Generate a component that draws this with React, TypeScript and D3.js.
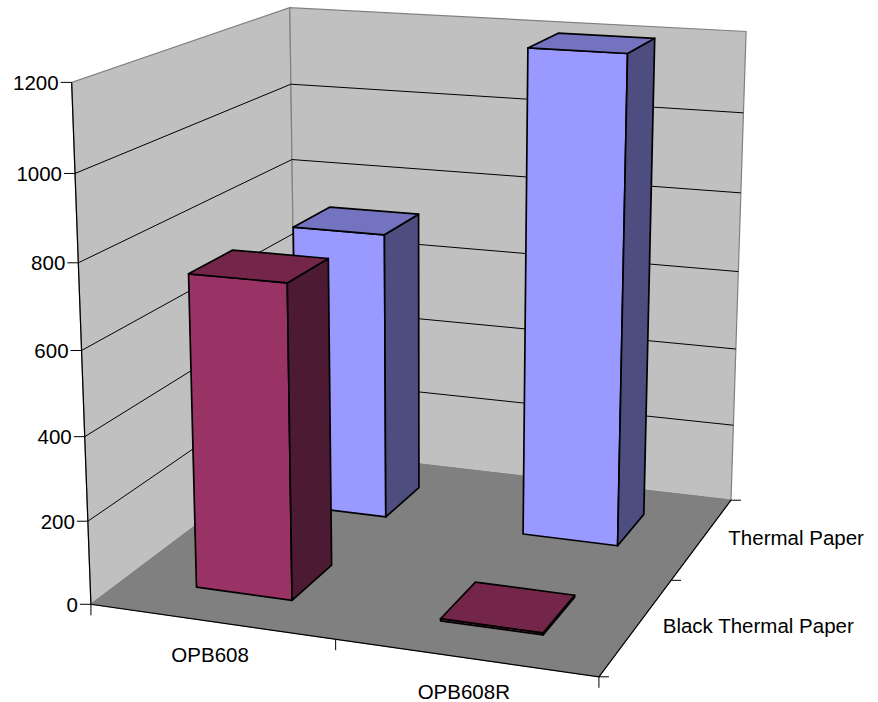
import React from "react";
import * as d3 from "d3";

const categories = ["OPB608", "OPB608R"];
const seriesNames = ["Black Thermal Paper", "Thermal Paper"];
const blackThermalPaper = [748, 5];
const thermalPaper = [724, 1200];
const valueTicks = [0, 200, 400, 600, 800, 1000, 1200];

const FONT = "'Liberation Sans', Arial, sans-serif";
const seriesColors = [
  { front: "#993366", side: "#4D1A33", top: "#732649" },
  { front: "#9999FF", side: "#4D4D80", top: "#7373BF" },
];

type P3 = [number, number, number];
type P2 = [number, number];

// Calibration of the 3D box: unit-cube corners to their place on the page.
const calibration: [P3, P2][] = [
  [[0, 0, 0], [91, 604]],
  [[1, 0, 0], [599, 677]],
  [[1, 0, 1], [731, 500]],
  [[0, 0, 1], [296, 450]],
  [[0, 1, 0], [71.5, 82.5]],
  [[0, 1, 1], [290, 7.5]],
  [[1, 1, 1], [746, 31.5]],
];

function solve(A: number[][], b: number[]): number[] {
  const n = b.length;
  const M = A.map((r, i) => [...r, b[i]]);
  for (let c = 0; c < n; c++) {
    let p = c;
    for (let r = c + 1; r < n; r++) if (Math.abs(M[r][c]) > Math.abs(M[p][c])) p = r;
    [M[c], M[p]] = [M[p], M[c]];
    for (let r = 0; r < n; r++) {
      if (r === c) continue;
      const f = M[r][c] / M[c][c];
      for (let k = c; k <= n; k++) M[r][k] -= f * M[c][k];
    }
  }
  return M.map((r, i) => r[n] / r[i]);
}

function fitCamera(pairs: [P3, P2][]): number[] {
  const rows: number[][] = [];
  const rhs: number[] = [];
  for (const [[x, y, z], [u, v]] of pairs) {
    rows.push([x, y, z, 1, 0, 0, 0, 0, -u * x, -u * y, -u * z]);
    rhs.push(u);
    rows.push([0, 0, 0, 0, x, y, z, 1, -v * x, -v * y, -v * z]);
    rhs.push(v);
  }
  const AtA = d3.range(11).map((i) =>
    d3.range(11).map((j) => d3.sum(rows, (r) => r[i] * r[j]))
  );
  const Atb = d3.range(11).map((i) => d3.sum(rows, (r, k) => r[i] * rhs[k]));
  return solve(AtA, Atb);
}

const cam = fitCamera(calibration);
const project = ([x, y, z]: P3): P2 => {
  const w = cam[8] * x + cam[9] * y + cam[10] * z + 1;
  return [
    (cam[0] * x + cam[1] * y + cam[2] * z + cam[3]) / w,
    (cam[4] * x + cam[5] * y + cam[6] * z + cam[7]) / w,
  ];
};

const xBand = d3.scaleBand<string>().domain(categories).range([0, 1]).paddingInner(0.6).paddingOuter(0.3);
const zBand = d3.scaleBand<string>().domain(seriesNames).range([0, 1]).paddingInner(0.6).paddingOuter(0.3);
const yScale = d3.scaleLinear().domain([0, 1200]).range([0, 1]);

const line = d3.line<P3>().x((p) => project(p)[0]).y((p) => project(p)[1]);
const poly = (pts: P3[]) => line(pts)! + "Z";

type Bar = { key: string; x0: number; x1: number; z0: number; z1: number; h: number; s: number };
const series = [blackThermalPaper, thermalPaper];
const bars: Bar[] = [];
[1, 0].forEach((s) => {
  categories.forEach((c, i) => {
    const x0 = xBand(c)!;
    const z0 = zBand(seriesNames[s])!;
    bars.push({
      key: `${c}-${s}`,
      x0,
      x1: x0 + xBand.bandwidth(),
      z0,
      z1: z0 + zBand.bandwidth(),
      h: yScale(series[s][i]),
      s,
    });
  });
});

export default function App() {
  const xTicks = d3.range(categories.length + 1).map((i) => i / categories.length);
  const zTicks = d3.range(seriesNames.length + 1).map((i) => i / seriesNames.length);
  return (
    <svg width={878} height={702} style={{ position: "absolute", left: 0, top: 0, background: "#fff" }} fontFamily={FONT}>
      {/* walls and floor */}
      <path d={poly([[0, 0, 0], [0, 1, 0], [0, 1, 1], [0, 0, 1]])} fill="#C0C0C0" stroke="#808080" strokeWidth={1.2} />
      <path d={poly([[0, 0, 1], [0, 1, 1], [1, 1, 1], [1, 0, 1]])} fill="#C0C0C0" stroke="#808080" strokeWidth={1.2} />
      <path d={poly([[0, 0, 0], [1, 0, 0], [1, 0, 1], [0, 0, 1]])} fill="#808080" stroke="#808080" strokeWidth={1} />

      {/* gridlines */}
      {valueTicks.slice(1, -1).map((t) => (
        <path
          key={t}
          d={line([[0, yScale(t), 0], [0, yScale(t), 1], [1, yScale(t), 1]])!}
          fill="none"
          stroke="#000"
          strokeWidth={1}
        />
      ))}

      {/* axes */}
      <path d={line([[0, 1, 0], [0, 0, 0], [1, 0, 0], [1, 0, 1]])!} fill="none" stroke="#000" strokeWidth={1.2} />
      {valueTicks.map((t) => {
        const [px, py] = project([0, yScale(t), 0]);
        return (
          <g key={t}>
            <line x1={px - 11} x2={px} y1={py} y2={py} stroke="#000" strokeWidth={1} />
            <text x={px - 13} y={py + 7.5} textAnchor="end" fontSize={20.5} fill="#000">{t}</text>
          </g>
        );
      })}
      {xTicks.map((t) => {
        const [px, py] = project([t, 0, 0]);
        return <line key={t} x1={px} x2={px} y1={py} y2={py + 11} stroke="#000" strokeWidth={1} />;
      })}
      {zTicks.map((t) => {
        const [px, py] = project([1, 0, t]);
        return <line key={t} x1={px} x2={px + 10} y1={py} y2={py} stroke="#000" strokeWidth={1} />;
      })}
      {categories.map((c) => {
        const [px, py] = project([xBand(c)! + xBand.bandwidth() / 2, 0, 0]);
        return (
          <text key={c} x={px - 1} y={py + 41} textAnchor="middle" fontSize={20.5} fill="#000">{c}</text>
        );
      })}
      {seriesNames.map((s) => {
        const [px, py] = project([1, 0, zBand(s)! + zBand.bandwidth() / 2]);
        return (
          <text key={s} x={px + 26} y={py + 7} fontSize={20.5} fill="#000">{s}</text>
        );
      })}

      {/* bars */}
      {bars.map((b) => {
        const col = seriesColors[b.s];
        return (
          <g key={b.key} stroke="#000" strokeWidth={1.7} strokeLinejoin="round">
            <path d={poly([[b.x0, b.h, b.z0], [b.x1, b.h, b.z0], [b.x1, 0, b.z0], [b.x0, 0, b.z0]])} fill={col.front} />
            <path d={poly([[b.x1, b.h, b.z0], [b.x1, b.h, b.z1], [b.x1, 0, b.z1], [b.x1, 0, b.z0]])} fill={col.side} />
            <path d={poly([[b.x0, b.h, b.z0], [b.x0, b.h, b.z1], [b.x1, b.h, b.z1], [b.x1, b.h, b.z0]])} fill={col.top} />
          </g>
        );
      })}
    </svg>
  );
}
